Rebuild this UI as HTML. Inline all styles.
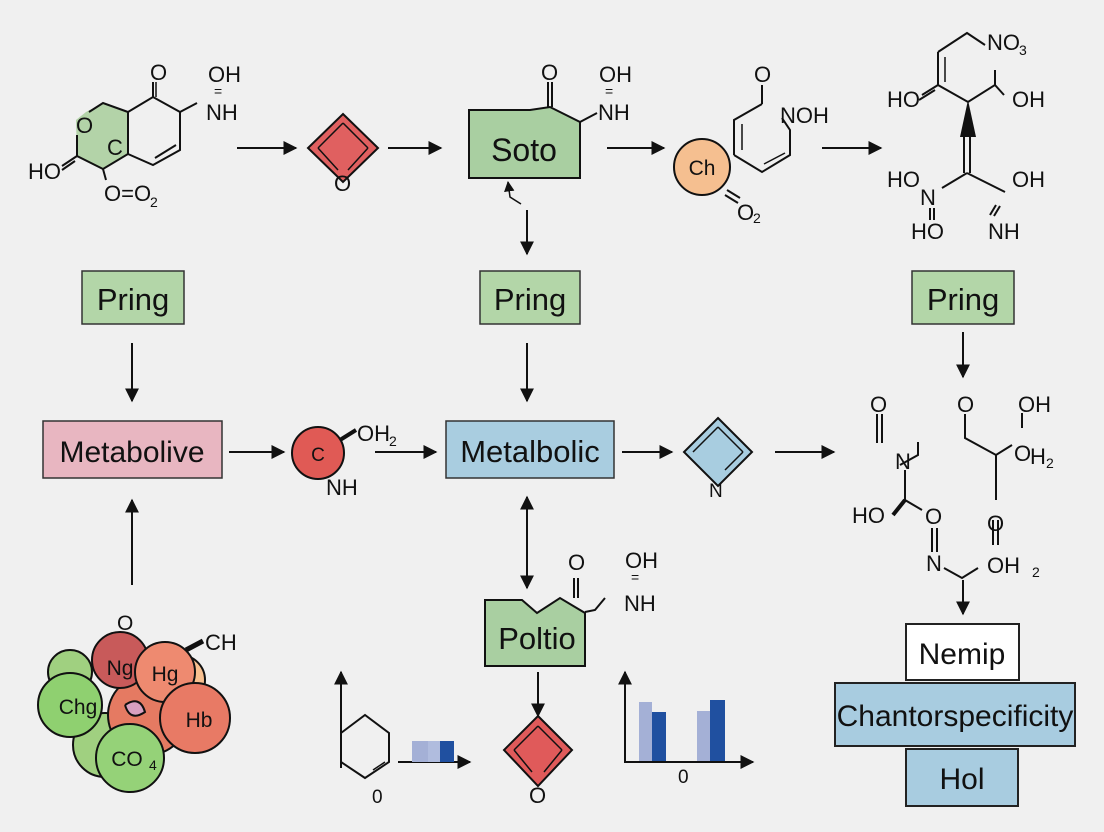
<!DOCTYPE html>
<html><head><meta charset="utf-8"><style>
html,body{margin:0;padding:0;background:#f0f0f0}
svg{display:block}
text{font-family:"Liberation Sans",sans-serif;fill:#111}
</style></head><body>
<svg width="1104" height="832" viewBox="0 0 1104 832" xmlns="http://www.w3.org/2000/svg">
<defs>
<marker id="a" viewBox="0 0 10 10" refX="9" refY="5" markerWidth="7" markerHeight="7" orient="auto-start-reverse"><path d="M0,0 L10,5 L0,10 z" fill="#111"/></marker>
</defs>
<rect width="1104" height="832" fill="#f0f0f0"/>
<g stroke="#111" stroke-width="2" fill="none">
<path d="M76,120 L77,156 L103,169 L128,154 L128,112 L103,103 L86,112 Z" fill="#b3d3a8" stroke="none"/>
<path d="M89,112 L103,103 L128,112 L128,154 L103,169 L77,156 L77,135"/>
<path d="M128,112 L153,97 L180,112 L180,150 L153,165 L128,154"/>
<path d="M153,97 L153,82"/><path d="M156,97 L156,82" stroke-width="1.5"/>
<path d="M180,112 L197,103"/>
<path d="M176,145 L155,158"/>
<path d="M77,156 L62,166"/><path d="M75,161 L62,170"/>
<path d="M103,169 L106,180"/>
<path d="M237,148 L296,148" marker-end="url(#a)"/>
<path d="M388,148 L441,148" marker-end="url(#a)"/>
<path d="M607,148 L664,148" marker-end="url(#a)"/>
<path d="M822,148 L881,148" marker-end="url(#a)"/>
</g>
<text x="76" y="133" font-size="22">O</text>
<text x="107" y="155" font-size="22">C</text>
<text x="28" y="179" font-size="22">HO</text>
<text x="104" y="201" font-size="22">O=O</text><text x="150" y="207" font-size="14">2</text>
<text x="150" y="80" font-size="22">O</text>
<text x="208" y="82" font-size="22">OH</text>
<text x="214" y="96" font-size="14">=</text>
<text x="206" y="120" font-size="22">NH</text>
<g stroke="#111" stroke-width="2">
<path d="M343,114 L378,148 L343,182 L308,148 Z" fill="#e06060"/>
<path d="M343,123 L368,148 M318,148 L343,123 M318,148 L338,170 M368,148 L348,170" fill="none" stroke-width="1.5"/>
</g>
<text x="334" y="191" font-size="22">O</text>
<path d="M469,110 L530,110 L550,107 L580,122 L580,178 L469,178 Z" fill="#a9cfa1" stroke="#111" stroke-width="2"/>
<text x="524" y="161" font-size="32" text-anchor="middle">Soto</text>
<g stroke="#111" stroke-width="2" fill="none">
<path d="M548,107 L548,82 M552,107 L552,82"/>
<path d="M580,122 L597,113"/>
<path d="M527,210 L527,254" marker-end="url(#a)"/>
<path d="M521,204 L510,197 L508,182" marker-end="url(#a)" stroke-width="1.5"/>
</g>
<text x="541" y="80" font-size="22">O</text>
<text x="599" y="82" font-size="22">OH</text>
<text x="605" y="96" font-size="14">=</text>
<text x="598" y="120" font-size="22">NH</text>
<g stroke="#111" stroke-width="2" fill="none">
<path d="M734,155 L734,120 L762,104 M782,118 L790,130 L790,155 L762,172 L734,155"/>
<path d="M742,150 L742,124" stroke-width="1.5"/><path d="M785,153 L764,164" stroke-width="1.5"/>
<path d="M762,104 L762,85"/>
<path d="M725,195 L738,203 M727,190 L740,198"/>
</g>
<circle cx="702" cy="167" r="28" fill="#f5bf90" stroke="#111" stroke-width="2"/>
<text x="702" y="175" font-size="21" text-anchor="middle">Ch</text>
<text x="754" y="82" font-size="22">O</text>
<text x="780" y="123" font-size="22">NOH</text>
<text x="737" y="220" font-size="22">O</text><text x="753" y="223" font-size="14">2</text>
<g stroke="#111" stroke-width="2" fill="none">
<path d="M938,52 L967,33 L985,45 M938,52 L938,85 L968,102 L995,85 L995,70"/>
<path d="M945,57 L945,82" stroke-width="1.5"/>
<path d="M938,85 L922,95 M935,90 L919,100"/>
<path d="M995,85 L1004,95"/>
<path d="M964,135 L964,173 M970,135 L970,173"/>
<path d="M967,173 L1005,192 M967,173 L942,188"/>
<path d="M930,208 L930,220 M934,208 L934,220"/>
<path d="M996,205 L990,215 M1000,206 L994,216"/>
</g>
<path d="M968,100 L960,137 L976,137 Z" fill="#111"/>
<text x="887" y="107" font-size="22">HO</text>
<text x="987" y="50" font-size="22">NO</text><text x="1019" y="55" font-size="14">3</text>
<text x="1012" y="107" font-size="22">OH</text>
<text x="887" y="187" font-size="22">HO</text>
<text x="920" y="205" font-size="22">N</text>
<text x="1012" y="187" font-size="22">OH</text>
<text x="911" y="239" font-size="22">HO</text>
<text x="988" y="239" font-size="22">NH</text>
<g stroke="#333" stroke-width="1.5">
<rect x="82" y="271" width="102" height="53" fill="#b3d6a8"/>
<rect x="480" y="271" width="100" height="53" fill="#b3d6a8"/>
<rect x="912" y="271" width="102" height="53" fill="#b3d6a8"/>
</g>
<text x="133" y="310" font-size="31" text-anchor="middle">Pring</text>
<text x="530" y="310" font-size="31" text-anchor="middle">Pring</text>
<text x="963" y="310" font-size="31" text-anchor="middle">Pring</text>
<g stroke="#111" stroke-width="2" fill="none">
<path d="M132,343 L132,401" marker-end="url(#a)"/>
<path d="M527,343 L527,401" marker-end="url(#a)"/>
<path d="M963,332 L963,377" marker-end="url(#a)"/>
<path d="M229,452 L284,452" marker-end="url(#a)"/>
<path d="M375,452 L436,452" marker-end="url(#a)"/>
<path d="M622,452 L672,452" marker-end="url(#a)"/>
<path d="M775,452 L834,452" marker-end="url(#a)"/>
<path d="M527,497 L527,588" marker-start="url(#a)" marker-end="url(#a)"/>
<path d="M132,585 L132,500" marker-end="url(#a)"/>
<path d="M538,672 L538,716" marker-end="url(#a)"/>
<path d="M963,580 L963,614" marker-end="url(#a)"/>
</g>
<rect x="43" y="421" width="179" height="57" fill="#e8b6c1" stroke="#333" stroke-width="1.5"/>
<text x="132" y="462" font-size="30" text-anchor="middle">Metabolive</text>
<rect x="446" y="421" width="168" height="57" fill="#a9cde0" stroke="#333" stroke-width="1.5"/>
<text x="530" y="462" font-size="31" text-anchor="middle">Metalbolic</text>
<circle cx="318" cy="453" r="26" fill="#e05a55" stroke="#111" stroke-width="2"/>
<text x="318" y="461" font-size="19" text-anchor="middle">C</text>
<path d="M340,440 L356,430" stroke="#111" stroke-width="4"/>
<text x="357" y="441" font-size="22">OH</text><text x="389" y="446" font-size="14">2</text>
<text x="326" y="495" font-size="22">NH</text>
<g stroke="#111" stroke-width="2">
<path d="M718,418 L752,452 L718,486 L684,452 Z" fill="#a8cde0"/>
<path d="M718,427 L743,452 M693,452 L718,427 M743,452 L725,470" fill="none" stroke-width="1.5"/>
</g>
<text x="709" y="497" font-size="19">N</text>
<g stroke="#111" stroke-width="2" fill="none">
<path d="M877,414 L877,443 M882,414 L882,443"/>
<path d="M900,465 L918,455 L918,442"/>
<path d="M905,470 L905,500 L922,510"/>
<path d="M893,515 L905,500" stroke-width="4"/>
<path d="M932,528 L932,552 M937,528 L937,552"/>
<path d="M944,568 L962,578 L978,568"/>
<path d="M965,414 L965,438 L996,455 L1012,445 M996,455 L996,500"/>
<path d="M1022,413 L1022,428"/>
<path d="M993,520 L993,545 M998,520 L998,545"/>
</g>
<text x="870" y="412" font-size="22">O</text>
<text x="895" y="469" font-size="22">N</text>
<text x="852" y="523" font-size="22">HO</text>
<text x="925" y="524" font-size="22">O</text>
<text x="926" y="571" font-size="22">N</text>
<text x="957" y="412" font-size="22">O</text>
<text x="1018" y="412" font-size="22">OH</text>
<text x="1014" y="461" font-size="22">O</text><text x="1030" y="464" font-size="22">H</text><text x="1046" y="468" font-size="14">2</text>
<text x="987" y="531" font-size="22">O</text>
<text x="987" y="573" font-size="22">OH</text><text x="1032" y="577" font-size="14">2</text>
<rect x="906" y="624" width="113" height="56" fill="#fff" stroke="#222" stroke-width="2"/>
<text x="962" y="664" font-size="30" text-anchor="middle">Nemip</text>
<rect x="835" y="683" width="240" height="63" fill="#a8cce0" stroke="#222" stroke-width="2"/>
<text x="955" y="726" font-size="30" text-anchor="middle">Chantorspecificity</text>
<rect x="906" y="749" width="112" height="57" fill="#a8cce0" stroke="#222" stroke-width="2"/>
<text x="962" y="789" font-size="30" text-anchor="middle">Hol</text>
<path d="M485,600 L522,600 L537,613 L560,598 L585,613 L585,666 L485,666 Z" fill="#a9cfa1" stroke="#111" stroke-width="2"/>
<text x="537" y="649" font-size="31" text-anchor="middle">Poltio</text>
<g stroke="#111" stroke-width="2" fill="none">
<path d="M574,598 L574,578 M578,598 L578,578"/>
<path d="M585,612 L595,610 L605,598"/>
</g>
<text x="568" y="570" font-size="22">O</text>
<text x="625" y="568" font-size="22">OH</text>
<text x="631" y="582" font-size="14">=</text>
<text x="624" y="611" font-size="22">NH</text>
<g stroke="#111" stroke-width="2">
<path d="M538,716 L572,750 L538,786 L504,750 Z" fill="#e05a5a"/>
<path d="M538,726 L562,750 M514,750 L538,726 M514,750 L532,772 M562,750 L544,772" fill="none" stroke-width="1.5"/>
</g>
<text x="529" y="803" font-size="22">O</text>
<g stroke="#111" stroke-width="2" fill="none">
<path d="M341,768 L341,672" marker-end="url(#a)"/>
<path d="M398,762 L470,762" marker-end="url(#a)"/>
<path d="M341,733 L365,715 L389,733 L389,762 L365,778 L341,762 Z"/>
<path d="M373,770 L385,762" stroke-width="1.5"/>
</g>
<rect x="412" y="741" width="16" height="21" fill="#a4b0d6"/>
<rect x="428" y="741" width="12" height="21" fill="#b0bcde"/>
<rect x="440" y="741" width="14" height="21" fill="#2050a0"/>
<text x="372" y="803" font-size="19">0</text>
<rect x="639" y="702" width="13" height="60" fill="#a4b0d6"/>
<rect x="652" y="712" width="14" height="50" fill="#2050a0"/>
<rect x="697" y="711" width="13" height="51" fill="#a4b0d6"/>
<rect x="710" y="700" width="15" height="62" fill="#2050a0"/>
<g stroke="#111" stroke-width="2" fill="none">
<path d="M625,763 L625,672" marker-end="url(#a)"/>
<path d="M624,762 L753,762" marker-end="url(#a)"/>
</g>
<text x="678" y="783" font-size="19">0</text>
<g stroke="#111" stroke-width="2">
<circle cx="70" cy="672" r="22" fill="#a0d080"/>
<circle cx="165" cy="710" r="30" fill="#f8c090"/>
<circle cx="180" cy="680" r="25" fill="#f8c090"/>
<circle cx="105" cy="745" r="32" fill="#a0d080"/>
<circle cx="148" cy="715" r="40" fill="#e57a62"/>
<path d="M125,705 Q140,695 145,712 Q130,722 125,705" fill="#d8a0c0"/>
<circle cx="120" cy="660" r="28" fill="#c85a5a"/>
<circle cx="165" cy="672" r="30" fill="#ee8a70"/>
<circle cx="195" cy="718" r="35" fill="#e87a65"/>
<circle cx="70" cy="705" r="32" fill="#8fd070"/>
<circle cx="130" cy="758" r="34" fill="#95d278"/>
</g>
<path d="M186,650 L203,641" stroke="#111" stroke-width="5"/>
<text x="117" y="630" font-size="21">O</text>
<text x="205" y="650" font-size="22">CH</text>
<text x="120" y="675" font-size="21" text-anchor="middle">Ng</text>
<text x="165" y="681" font-size="21" text-anchor="middle">Hg</text>
<text x="199" y="727" font-size="21" text-anchor="middle">Hb</text>
<text x="78" y="714" font-size="21" text-anchor="middle">Chg</text>
<text x="127" y="766" font-size="21" text-anchor="middle">CO</text><text x="149" y="770" font-size="14">4</text>
</svg>
</body></html>
